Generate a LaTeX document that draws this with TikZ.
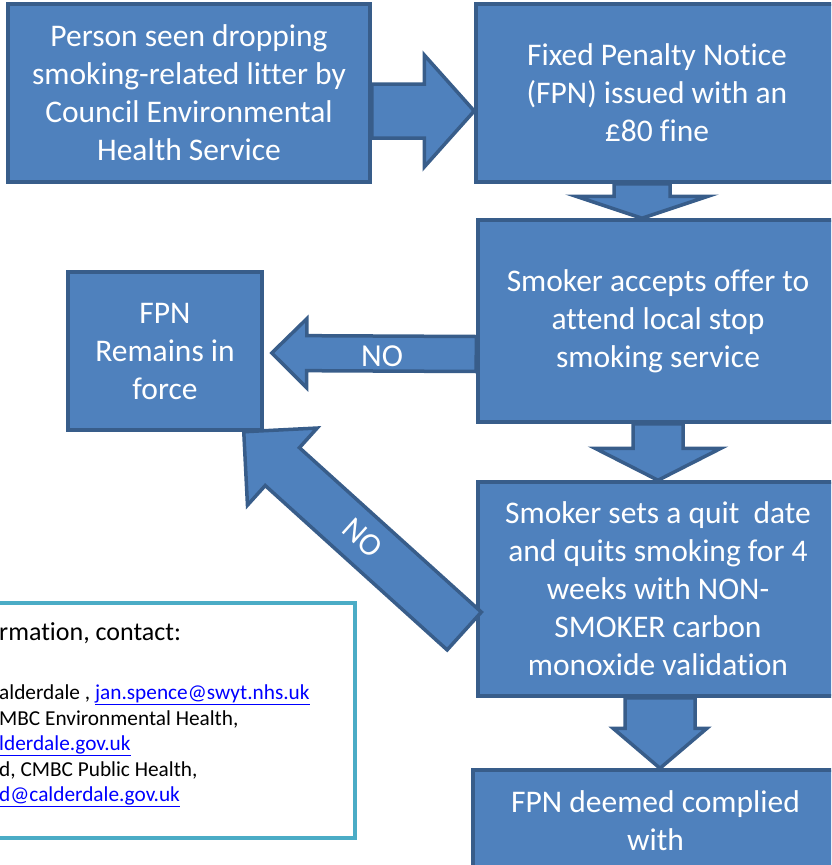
\documentclass[tikz,border=0pt]{standalone}
\usepackage{fontspec}
\setmainfont{Carlito}[Ligatures=NoCommon]
\usepackage{xcolor}
\usetikzlibrary{calc,positioning}

\definecolor{boxblue}{HTML}{4F81BD}
\definecolor{edgeblue}{HTML}{385D8A}
\definecolor{framecyan}{HTML}{4BACC6}
\definecolor{linkblue}{HTML}{0000FF}

\newcommand{\mylink}[1]{\textcolor{linkblue}{\underline{#1}}}
% block arrow: tail, tip, shaft half width, head half width, head length, name of head base
\newcommand{\blockarrow}[6]{%
	\coordinate (#6) at ($(#2)!#5!(#1)$);
	\draw[fatarrow] ($(#1)!#3!90:(#2)$) -- ($(#6)!#3!90:(#2)$) -- ($(#6)!#4!90:(#2)$) -- (#2)
		-- ($(#6)!#4!-90:(#2)$) -- ($(#6)!#3!-90:(#2)$) -- ($(#1)!#3!-90:(#2)$) -- cycle;
}

\begin{document}
\begin{tikzpicture}[x=1pt, y=-1pt,
				stepbox/.style={rectangle, draw=edgeblue, line width=3.5pt, fill=boxblue, text=white, align=center, inner sep=0pt, font=\fontsize{31.5}{38}\selectfont},
				fatarrow/.style={draw=edgeblue, line width=3.5pt, fill=boxblue, line join=miter},
				nolabel/.style={text=white, inner sep=0pt, font=\fontsize{32}{36}\selectfont},
				contactbox/.style={rectangle, draw=framecyan, line width=4pt, fill=white, inner sep=0pt}
				]
				\useasboundingbox (0,0) rectangle (831,865);
				\clip (0,0) rectangle (831,865);
				
				% Contact box
				\node[contactbox, minimum width=365pt, minimum height=235pt] (contact) at (172.5,720.5) {};
				\node[anchor=west, inner sep=0pt, font=\fontsize{26}{30}\selectfont] (cnthead) at (-1,633) {rmation, contact:};
				\node[anchor=west, inner sep=0pt, align=left, font=\fontsize{21.3}{25.5}\selectfont] (cntbody) at (-1,746) {alderdale , \mylink{jan.spence@swyt.nhs.uk}\\MBC Environmental Health,\\\mylink{lderdale.gov.uk}\\d, CMBC Public Health,\\\mylink{d@calderdale.gov.uk}};
				
				% Steps
				\node[stepbox, minimum width=362pt, minimum height=178pt] (seen) at (189,93) {Person seen dropping\\smoking-related litter by\\Council Environmental\\Health Service};
				\node[stepbox, minimum width=362pt, minimum height=178pt] (fpn) at (657,93) {Fixed Penalty Notice\\(FPN) issued with an\\£80 fine};
				\node[stepbox, minimum width=360pt, minimum height=202pt] (accept) at (658,321) {Smoker accepts offer to\\attend local stop\\smoking service};
				\node[stepbox, minimum width=360pt, minimum height=214pt] (quit) at (658,589) {Smoker sets a quit\ \ date\\and quits smoking for 4\\weeks with NON-\\SMOKER carbon\\monoxide validation};
				\node[stepbox, minimum width=194pt, minimum height=158pt] (remain) at (165,351) {FPN\\Remains in\\force};
				\node[stepbox, minimum width=365pt, minimum height=102pt] (comply) at (655.5,821) {FPN deemed complied\\with};
				
				% Arrow ends
				\coordinate (a1s) at ($(seen.east)+(0,18)$);
				\coordinate (a1e) at ($(fpn.west)+(0,18)$);
				\coordinate (a2s) at ($(fpn.south)+(-15,0)$);
				\coordinate (a2e) at ($(accept.north)+(-16,0)$);
				\coordinate (a3s) at ($(accept.west)+(0,33)$);
				\coordinate (a3e) at ($(remain.east)+(8,2)$);
				\coordinate (a4s) at (accept.south);
				\coordinate (a4e) at (quit.north);
				\coordinate (a5s) at ($(quit.west)+(-12,42)$);
				\coordinate (a5e) at ($(remain.south east)+(-20,0)$);
				\coordinate (a6s) at ($(quit.south)+(2,0)$);
				\coordinate (a6e) at ($(comply.north)+(4.5,0)$);
				
				% Arrows
				\blockarrow{a1s}{a1e}{27pt}{56pt}{50pt}{a1b}
				\blockarrow{a2s}{a2e}{28pt}{66pt}{22pt}{a2b}
				\blockarrow{a3s}{a3e}{17.5pt}{34.5pt}{35pt}{a3b}
				\blockarrow{a4s}{a4e}{25pt}{63pt}{32pt}{a4b}
				\blockarrow{a5s}{a5e}{25.5pt}{52pt}{52pt}{a5b}
				\blockarrow{a6s}{a6e}{35pt}{47pt}{40pt}{a6b}
				
				\node[nolabel] (noleft) at (382,356) {NO};
				\node[nolabel, rotate=-42] (nodiag) at (363,538) {NO};
			\end{tikzpicture}
\end{document}
